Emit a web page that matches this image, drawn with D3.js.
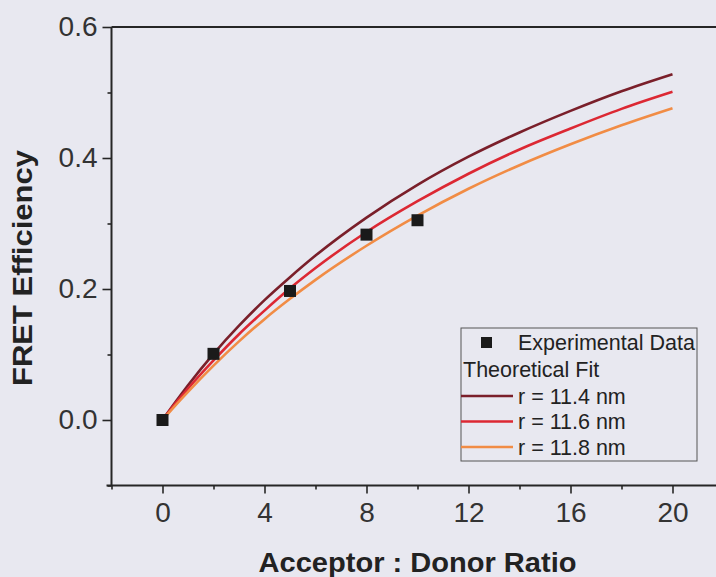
<!DOCTYPE html>
<html><head><meta charset="utf-8">
<script src="https://cdn.jsdelivr.net/npm/d3@7"></script>
<style>
html,body{margin:0;padding:0;background:#e8e8f0;}
svg{display:block;}
text{font-family:"Liberation Sans",Arial,Helvetica,sans-serif;}
</style></head>
<body>
<svg id="c" width="716" height="577"></svg>
<script>
// ---- data ----
const expRatio = [0, 2, 5, 8, 10];
const expEff   = [0.000, 0.101, 0.197, 0.283, 0.305];

const fitRatio = [0, 0.5, 1, 2, 3, 4, 5, 6, 8, 10, 12, 14, 16, 18, 20];
const fit114 = [0, 0.027, 0.053, 0.101, 0.144, 0.183, 0.218, 0.251, 0.309, 0.359, 0.402, 0.439, 0.472, 0.502, 0.528];
const fit116 = [0, 0.025, 0.048, 0.091, 0.131, 0.167, 0.201, 0.232, 0.287, 0.334, 0.376, 0.413, 0.445, 0.475, 0.501];
const fit118 = [0, 0.022, 0.043, 0.083, 0.120, 0.154, 0.185, 0.214, 0.266, 0.312, 0.353, 0.389, 0.421, 0.450, 0.476];
const fitLabels = ["r = 11.4 nm", "r = 11.6 nm", "r = 11.8 nm"];
const fitColors = ["#7a1f2a", "#dc2833", "#f18c45"];

const xMajor = [0, 4, 8, 12, 16, 20];
const xMinor = [-2, 2, 6, 10, 14, 18, 22];
const yMajor = [0.0, 0.2, 0.4, 0.6];
const yMinor = [-0.1, 0.1, 0.3, 0.5];

const xTitle = "Acceptor : Donor Ratio";
const yTitle = "FRET Efficiency";
const legendExp = "Experimental Data";
const legendFit = "Theoretical Fit";

// ---- drawing ----
const svg = d3.select("#c");
const x = d3.scaleLinear().domain([-2, 22]).range([111.5, 723.5]);
const y = d3.scaleLinear().domain([-0.1, 0.6]).range([485.5, 27]);
const axisColor = "#262626";
const tickFont = 28;

function styleAxis(g){
  g.select(".domain").attr("stroke", axisColor).attr("stroke-width", 2);
  g.selectAll(".tick line").attr("stroke", axisColor).attr("stroke-width", 1.6);
  g.selectAll(".tick text").attr("fill", "#333").style("font-size", tickFont + "px")
    .style("font-family", '"Liberation Sans",Arial,sans-serif');
}

// bottom axis
const bx = svg.append("g").attr("transform", `translate(0,${y(-0.1)})`)
  .call(d3.axisBottom(x).tickValues(xMajor).tickSize(8).tickPadding(9).tickFormat(d3.format("d")));
styleAxis(bx);
bx.select(".domain").attr("d", `M${x(-2)-5},0H${x(22)}`);
const bxm = svg.append("g").attr("transform", `translate(0,${y(-0.1)})`)
  .call(d3.axisBottom(x).tickValues(xMinor).tickSize(4).tickFormat(""));
styleAxis(bxm); bxm.select(".domain").remove();

// left axis
const ly = svg.append("g").attr("transform", `translate(${x(-2)},0)`)
  .call(d3.axisLeft(y).tickValues(yMajor).tickSize(9).tickPadding(5).tickFormat(d3.format(".1f")));
styleAxis(ly);
ly.select(".domain").attr("d", `M0,${y(-0.1)}V${y(0.6)}`);
const lym = svg.append("g").attr("transform", `translate(${x(-2)},0)`)
  .call(d3.axisLeft(y).tickValues(yMinor).tickSize(4).tickFormat(""));
styleAxis(lym); lym.select(".domain").remove();

// top frame line
svg.append("line").attr("x1", x(-2)).attr("x2", x(22)).attr("y1", y(0.6)).attr("y2", y(0.6))
  .attr("stroke", axisColor).attr("stroke-width", 2);

// fit curves
const fits = [fit114, fit116, fit118];
const line = d3.line().x(d => x(d[0])).y(d => y(d[1])).curve(d3.curveMonotoneX);
fits.forEach((arr, i) => {
  svg.append("path").datum(fitRatio.map((r, j) => [r, arr[j]]))
    .attr("d", line).attr("fill", "none").attr("stroke", fitColors[i]).attr("stroke-width", 2.6);
});

// experimental squares
const sq = 12;
svg.append("g").selectAll("rect").data(expRatio.map((r, i) => [r, expEff[i]])).join("rect")
  .attr("x", d => x(d[0]) - sq/2).attr("y", d => y(d[1]) - sq/2)
  .attr("width", sq).attr("height", sq).attr("fill", "#1a1a1a");

// axis titles
svg.append("text").attr("x", x(10)).attr("y", 572).attr("text-anchor", "middle")
  .attr("textLength", 318).attr("lengthAdjust", "spacingAndGlyphs")
  .style("font-size", "27px").style("font-weight", "bold").attr("fill", "#222").text(xTitle);
svg.append("text").attr("transform", `translate(32,268) rotate(-90)`).attr("text-anchor", "middle")
  .attr("textLength", 236).attr("lengthAdjust", "spacingAndGlyphs")
  .style("font-size", "27px").style("font-weight", "bold").attr("fill", "#222").text(yTitle);

// legend
const lg = svg.append("g");
lg.append("rect").attr("x", 461).attr("y", 328).attr("width", 236).attr("height", 133)
  .attr("fill", "none").attr("stroke", "#555").attr("stroke-width", 1);
const lfs = "21.5px";
lg.append("rect").attr("x", 481).attr("y", 337).attr("width", 11).attr("height", 11).attr("fill", "#1a1a1a");
lg.append("text").attr("x", 518).attr("y", 349.5).style("font-size", lfs).attr("fill", "#222").text(legendExp);
lg.append("text").attr("x", 463).attr("y", 376.5).style("font-size", lfs).attr("fill", "#222").text(legendFit);
const rowY = [396, 421.5, 447];
fitLabels.forEach((t, i) => {
  lg.append("line").attr("x1", 461).attr("x2", 513).attr("y1", rowY[i]).attr("y2", rowY[i])
    .attr("stroke", fitColors[i]).attr("stroke-width", 2.6);
  lg.append("text").attr("x", 518).attr("y", rowY[i] + 7.5).style("font-size", lfs).attr("fill", "#222").text(t);
});
</script>
</body></html>
